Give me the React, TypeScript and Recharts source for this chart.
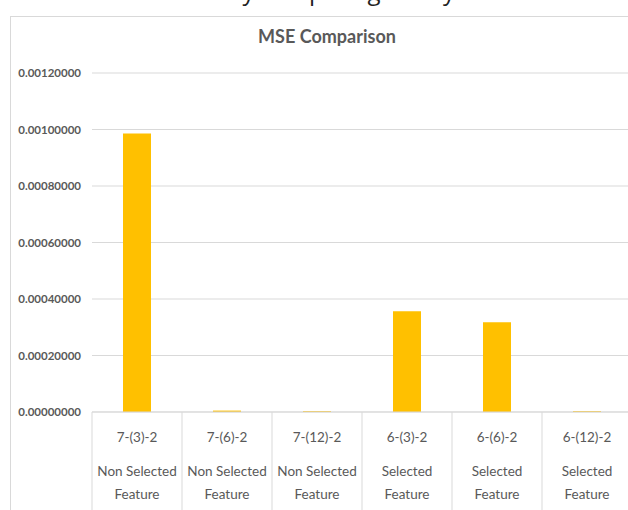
import { BarChart, Bar, XAxis, YAxis, CartesianGrid } from "recharts";

const models = ["7-(3)-2", "7-(6)-2", "7-(12)-2", "6-(3)-2", "6-(6)-2", "6-(12)-2"];
const groups = ["Non Selected", "Non Selected", "Non Selected", "Selected", "Selected", "Selected"];
const mse = [0.000986, 0.000005, 0.000003, 0.000357, 0.000318, 0.000003];
const yTicks = [0, 0.0002, 0.0004, 0.0006, 0.0008, 0.001, 0.0012];

const data = models.map((m, i) => ({ name: m, group: groups[i], mse: mse[i] }));

const FONT = "Lato, 'Open Sans', sans-serif";
const GRAY = "#595959";

const CategoryTick = (props: any) => {
  const { x, y, payload } = props;
  const row = data[payload.index];
  const half = 45;
  return (
    <g>
      <line x1={x - half} y1={y} x2={x - half} y2={y + 100} stroke="#d9d9d9" />
      {payload.index === data.length - 1 && (
        <line x1={x + half} y1={y} x2={x + half} y2={y + 100} stroke="#d9d9d9" />
      )}
      <text x={x} y={y + 30} textAnchor="middle" fill={GRAY} fontSize={13.5} fontFamily={FONT}>
        {row.name}
      </text>
      <text x={x} y={y + 64} textAnchor="middle" fill={GRAY} fontSize={13.5} fontFamily={FONT}>
        {row.group}
      </text>
      <text x={x} y={y + 87} textAnchor="middle" fill={GRAY} fontSize={13.5} fontFamily={FONT}>
        Feature
      </text>
    </g>
  );
};

export default function App() {
  return (
    <div style={{ position: "absolute", left: 0, top: 0, width: 628, height: 510, overflow: "hidden", background: "#fff" }}>
      <div
        style={{
          position: "absolute",
          left: 40,
          top: -26,
          fontSize: 24,
          fontFamily: "'Open Sans', sans-serif",
          color: "#222",
          whiteSpace: "nowrap",
        }}
      >
        results obtained by comparing data y
      </div>
      <div
        style={{
          position: "absolute",
          left: 10,
          top: 16,
          width: 660,
          height: 520,
          border: "1px solid #d9d9d9",
          boxSizing: "border-box",
        }}
      />
      <div
        style={{
          position: "absolute",
          left: 0,
          top: 25,
          width: 654,
          textAlign: "center",
          fontSize: 18,
          fontWeight: "bold",
          fontFamily: FONT,
          color: GRAY,
        }}
      >
        MSE Comparison
      </div>
      <div style={{ position: "absolute", left: 0, top: 0 }}>
        <BarChart
          width={640}
          height={510}
          data={data}
          margin={{ top: 73, right: 8, left: 2, bottom: 3 }}
          barSize={28}
        >
          <CartesianGrid vertical={false} stroke="#d9d9d9" />
          <XAxis
            dataKey="name"
            axisLine={{ stroke: "#d9d9d9" }}
            tickLine={false}
            tickSize={0}
            tickMargin={0}
            height={95}
            interval={0}
            tick={<CategoryTick />}
          />
          <YAxis
            width={90}
            domain={[0, 0.0012]}
            ticks={yTicks}
            axisLine={false}
            tickLine={false}
            tickSize={0}
            tickMargin={11}
            tickFormatter={(v: number) => v.toFixed(8)}
            tick={{ fill: GRAY, fontSize: 11.5, fontFamily: FONT, fontWeight: "bold" }}
          />
          <Bar dataKey="mse" fill="#FFC000" isAnimationActive={false} />
        </BarChart>
      </div>
    </div>
  );
}
